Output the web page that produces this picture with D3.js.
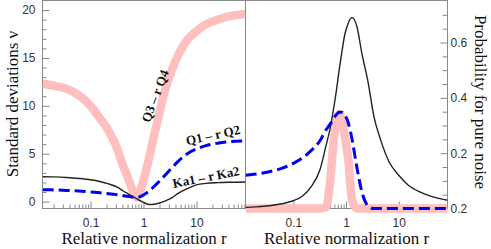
<!DOCTYPE html>
<html>
<head>
<meta charset="utf-8">
<script src="https://cdn.jsdelivr.net/npm/d3@7"></script>
<style>
body { margin: 0; background: #fff; }
svg { display: block; }
.tick text { font-family: "Liberation Sans", Arial, sans-serif; font-size: 12px; fill: #333; }
.tick line { stroke: #888; }
.title { font-family: "Liberation Serif", "Times New Roman", serif; font-size: 17px; fill: #111; }
.curve-label { font-family: "Liberation Serif", "Times New Roman", serif; font-weight: bold; font-size: 13px; fill: #111; }
</style>
</head>
<body>
<div id="chart"></div>
<script>
// relative normalization r (shared by all curves)
const rValues = [0.0125, 0.02, 0.035, 0.06, 0.1, 0.15, 0.22, 0.32, 0.42, 0.5, 0.58, 0.66, 0.74, 0.84,
    0.95, 1.1, 1.3, 1.6, 2, 2.6, 3.4, 4.5, 6.5, 10, 15, 25, 40, 84];

// left panel: standard deviations
const sigmaQ3Q4 = [12.3, 12.1, 11.8, 11.1, 10.0, 8.7, 7.4, 5.5, 3.6, 2.6, 1.6, 0.85, 0.45, 0.9,
    1.8, 3.1, 4.8, 7.0, 9.3, 11.8, 13.7, 15.3, 16.8, 17.8, 18.5, 19.0, 19.35, 19.6];
const sigmaQ1Q2 = [1.25, 1.22, 1.17, 1.1, 1.0, 0.92, 0.83, 0.72, 0.62, 0.55, 0.5, 0.46, 0.45, 0.5,
    0.62, 0.85, 1.15, 1.6, 2.15, 2.8, 3.5, 4.2, 4.95, 5.5, 5.85, 6.1, 6.25, 6.35];
const sigmaKa = [2.6, 2.58, 2.52, 2.42, 2.28, 2.1, 1.85, 1.5, 1.08, 0.85, 0.63, 0.46, 0.3, 0.12,
    -0.02, -0.2, -0.3, -0.27, -0.15, 0.08, 0.38, 0.85, 1.32, 1.75, 1.9, 1.98, 2.02, 2.05];

// right panel: probability for pure noise
const probQ3Q4 = [0, 0, 0, 0, 0, 0, 0, 0, 0.005, 0.1, 0.24, 0.315, 0.342, 0.32,
    0.26, 0.18, 0.03, 0, 0, 0, 0, 0, 0, 0, 0, 0, 0, 0];
const probQ1Q2 = [0.12, 0.125, 0.133, 0.145, 0.163, 0.183, 0.21, 0.245, 0.285, 0.305, 0.325, 0.34, 0.348, 0.348,
    0.338, 0.31, 0.25, 0.15, 0.06, 0.01, 0, 0, 0, 0, 0, 0, 0, 0];
const probKa = [0.004, 0.006, 0.01, 0.017, 0.028, 0.045, 0.08, 0.14, 0.23, 0.29, 0.36, 0.43, 0.5, 0.57,
    0.63, 0.67, 0.69, 0.66, 0.56, 0.46, 0.33, 0.25, 0.17, 0.12, 0.085, 0.06, 0.045, 0.03];

// ticks
const xTickValues = [0.1, 1, 10];
const xTickLabels = ['0.1', '1', '10'];
const sigmaTickValues = [0, 5, 10, 15, 20];
const sigmaTickLabels = ['0', '5', '10', '15', '20'];
const probTickValues = [0, 0.2, 0.4, 0.6];
const probTickLabels = ['0.2', '0.2', '0.4', '0.6'];

const width = 491, height = 249;
const plotTop = 0.5, plotBottom = 208.5;
const leftX0 = 42.5, midX = 245.5, rightX1 = 447.5;

const svg = d3.select('#chart').append('svg')
    .attr('width', width)
    .attr('height', height);

const xLeft = d3.scaleLog().domain([0.0124, 84]).range([leftX0, midX]);
const xRight = d3.scaleLog().domain([0.0124, 84]).range([midX, rightX1]);
const ySigma = d3.scaleLinear().domain([-0.72, 21]).range([plotBottom, plotTop]);
const yProb = d3.scaleLinear().domain([0, 0.752]).range([plotBottom, plotTop]);

// minor log ticks
const minorX = [];
[0.01, 0.1, 1, 10].forEach(dec => {
    for (let k = 2; k <= 9; k++) {
        const v = dec * k;
        if (v > 0.0124 && v < 84) minorX.push(v);
    }
});

function noDomain(g) { g.select('.domain').remove(); }

// x axes for both panels
[xLeft, xRight].forEach(x => {
    svg.append('g')
        .attr('transform', `translate(0, ${plotBottom})`)
        .call(d3.axisBottom(x).tickValues(minorX).tickFormat('').tickSize(-4))
        .call(noDomain);
    svg.append('g')
        .attr('transform', `translate(0, ${plotBottom})`)
        .call(d3.axisBottom(x).tickValues(xTickValues)
            .tickFormat((d, i) => xTickLabels[i]).tickSize(-7).tickPadding(10))
        .call(noDomain);
});

// left y axis
svg.append('g')
    .attr('transform', `translate(${leftX0}, 0)`)
    .call(d3.axisLeft(ySigma).tickValues(d3.range(0, 21).filter(v => v % 5 !== 0))
        .tickFormat('').tickSize(-4))
    .call(noDomain);
svg.append('g')
    .attr('transform', `translate(${leftX0}, 0)`)
    .call(d3.axisLeft(ySigma).tickValues(sigmaTickValues)
        .tickFormat((d, i) => sigmaTickLabels[i]).tickSize(-7).tickPadding(7))
    .call(noDomain);

// right y axis
svg.append('g')
    .attr('transform', `translate(${rightX1}, 0)`)
    .call(d3.axisRight(yProb).tickValues(d3.range(1, 15).map(i => i * 0.05).filter(v => Math.round(v * 100) % 20 !== 0))
        .tickFormat('').tickSize(-5))
    .call(noDomain);
svg.append('g')
    .attr('transform', `translate(${rightX1}, 0)`)
    .call(d3.axisRight(yProb).tickValues(probTickValues)
        .tickFormat((d, i) => probTickLabels[i]).tickSize(-7).tickPadding(3))
    .call(noDomain);

// frame
svg.append('rect')
    .attr('x', leftX0).attr('y', plotTop)
    .attr('width', rightX1 - leftX0).attr('height', plotBottom - plotTop)
    .attr('fill', 'none').attr('stroke', '#888');
svg.append('line')
    .attr('x1', midX).attr('x2', midX).attr('y1', plotTop).attr('y2', plotBottom)
    .attr('stroke', '#888');

// clip paths
const defs = svg.append('defs');
defs.append('clipPath').attr('id', 'clipL').append('rect')
    .attr('x', leftX0).attr('y', -10).attr('width', midX - leftX0).attr('height', plotBottom + 20);
defs.append('clipPath').attr('id', 'clipR').append('rect')
    .attr('x', midX).attr('y', -10).attr('width', rightX1 - midX).attr('height', plotBottom + 20);

const series = [
    {left: sigmaQ3Q4, right: probQ3Q4, color: '#ffbfbf', width: 8.5, dash: null},
    {left: sigmaKa, right: probKa, color: '#222', width: 1.4, dash: null},
    {left: sigmaQ1Q2, right: probQ1Q2, color: '#0000f0', width: 3, dash: '11,5'}
];

const gL = svg.append('g').attr('clip-path', 'url(#clipL)');
const gR = svg.append('g').attr('clip-path', 'url(#clipR)');

series.forEach(s => {
    const lineL = d3.line()
        .x((d, i) => xLeft(rValues[i]))
        .y(d => ySigma(d))
        .curve(d3.curveMonotoneX);
    const lineR = d3.line()
        .x((d, i) => xRight(rValues[i]))
        .y(d => yProb(d))
        .curve(d3.curveMonotoneX);
    gL.append('path')
        .attr('d', lineL(s.left))
        .attr('fill', 'none')
        .attr('stroke', s.color)
        .attr('stroke-width', s.width)
        .attr('stroke-dasharray', s.dash);
    gR.append('path')
        .attr('d', lineR(s.right))
        .attr('fill', 'none')
        .attr('stroke', s.color)
        .attr('stroke-width', s.width)
        .attr('stroke-dasharray', s.dash);
});

// curve labels
const curveLabels = [
    {text: 'Q3 – r Q4', x: 155, y: 96, angle: -69},
    {text: 'Q1 – r Q2', x: 213, y: 135, angle: -12},
    {text: 'Ka1 – r Ka2', x: 206, y: 177, angle: -11}
];
svg.selectAll('.curve-label')
    .data(curveLabels)
    .enter()
    .append('text')
    .attr('class', 'curve-label')
    .attr('text-anchor', 'middle')
    .attr('dy', '0.35em')
    .attr('transform', d => `translate(${d.x}, ${d.y}) rotate(${d.angle})`)
    .text(d => d.text);

// axis titles
svg.append('text')
    .attr('class', 'title')
    .attr('text-anchor', 'middle')
    .attr('transform', `translate(18, 104) rotate(-90)`)
    .text('Standard deviations ν');
svg.append('text')
    .attr('class', 'title')
    .attr('text-anchor', 'middle')
    .attr('x', (leftX0 + midX) / 2).attr('y', 244)
    .text('Relative normalization r');
svg.append('text')
    .attr('class', 'title')
    .attr('text-anchor', 'middle')
    .attr('x', (midX + rightX1) / 2).attr('y', 244)
    .text('Relative normalization r');
svg.append('text')
    .attr('class', 'title')
    .attr('text-anchor', 'middle')
    .attr('transform', `translate(475, 102) rotate(90)`)
    .text('Probability for pure noise');
</script>
</body>
</html>
